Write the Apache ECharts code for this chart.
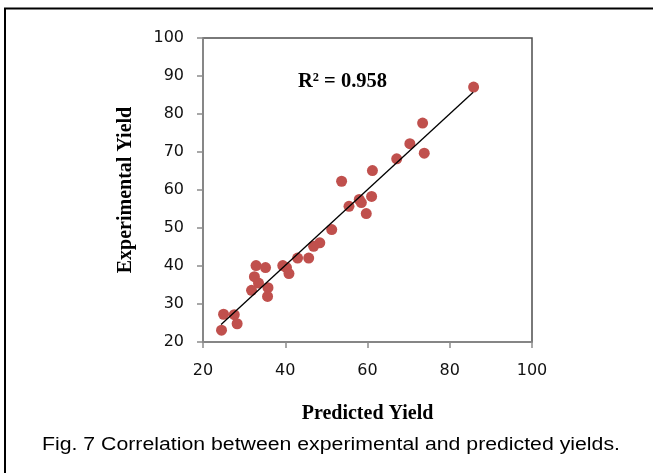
<!DOCTYPE html>
<html>
<head>
<meta charset="utf-8">
<title>Correlation between experimental and predicted yields</title>
<script src="https://cdn.jsdelivr.net/npm/echarts@6/dist/echarts.min.js"></script>
<style>
    html, body {
        margin: 0;
        padding: 0;
        background: #fff;
    }
    #yieldChart {
        width: 653px;
        height: 473px;
    }
</style>
</head>
<body>
<div id="yieldChart"></div>
<script>
// values
const predictedYield = [
    85.8, 73.4, 70.3, 73.8, 67.1, 61.2, 53.7, 61.0, 58.0, 58.5, 55.5,
    59.7, 51.3, 48.4, 46.9, 43.0, 45.7, 39.4, 40.3, 40.9, 32.9, 35.2,
    32.5, 33.5, 35.8, 31.8, 35.7, 25.0, 27.6, 28.3, 24.5,
];
const experimentalYield = [
    87.1, 77.6, 72.2, 69.7, 68.2, 65.1, 62.3, 58.3, 57.5, 56.7, 55.7,
    53.8, 49.6, 46.1, 45.2, 42.1, 42.1, 40.1, 39.6, 38.0, 40.1, 39.6,
    37.2, 35.5, 34.3, 33.6, 32.0, 27.3, 27.2, 24.8, 23.1,
];
// ends of the drawn trend line
const trendX = [24.4, 85.7];
const trendY = [24.6, 85.7];

const xTicks = [20, 40, 60, 80, 100];
const yTicks = [20, 30, 40, 50, 60, 70, 80, 90, 100];
const rSquared = '0.958';
const captionText = 'Fig. 7 Correlation between experimental and predicted yields.';

function getYieldChartOption() {
    const points = predictedYield.map((x, i) => [x, experimentalYield[i]]);
    const trendLine = trendX.map((x, i) => [x, trendY[i]]);

    const option = {
        animation: false,
        grid: {
            left: 203,
            top: 38,
            width: 329,
            height: 304,
            show: true,
            borderColor: '#4d4d4d',
            borderWidth: 1.5,
        },
        xAxis: {
            type: 'value',
            min: xTicks[0],
            max: xTicks[xTicks.length - 1],
            interval: xTicks[1] - xTicks[0],
            name: 'Predicted Yield',
            nameLocation: 'middle',
            nameGap: 62,
            nameTextStyle: {
                fontFamily: 'Liberation Serif',
                fontWeight: 'bold',
                fontSize: 20,
                color: '#000',
            },
            axisLine: {lineStyle: {color: '#8c8c8c', width: 1.5}},
            axisTick: {show: true, length: 6, lineStyle: {color: '#8c8c8c', width: 1.5}},
            axisLabel: {
                margin: 21,
                fontFamily: 'DejaVu Sans',
                fontSize: 16,
                color: '#111',
            },
            splitLine: {show: false},
        },
        yAxis: {
            type: 'value',
            min: yTicks[0],
            max: yTicks[yTicks.length - 1],
            interval: yTicks[1] - yTicks[0],
            name: 'Experimental Yield',
            nameLocation: 'middle',
            nameGap: 67,
            nameTextStyle: {
                fontFamily: 'Liberation Serif',
                fontWeight: 'bold',
                fontSize: 20,
                color: '#000',
            },
            axisLine: {lineStyle: {color: '#8c8c8c', width: 1.5}},
            axisTick: {show: true, length: 6, lineStyle: {color: '#8c8c8c', width: 1.5}},
            axisLabel: {
                margin: 19,
                fontFamily: 'DejaVu Sans',
                fontSize: 16,
                color: '#111',
            },
            splitLine: {show: false},
        },
        graphic: [
            {
                // outer frame of the figure, cut off on the right and bottom
                type: 'rect',
                shape: {x: 5, y: 8.5, width: 700, height: 500},
                style: {fill: 'none', stroke: '#000', lineWidth: 2},
                silent: true,
            },
            {
                type: 'text',
                x: 298,
                y: 82,
                style: {
                    text: 'R² = ' + rSquared,
                    font: 'bold 20.5px "Liberation Serif"',
                    fill: '#000',
                    verticalAlign: 'middle',
                },
            },
            {
                type: 'text',
                x: 42,
                y: 445,
                scaleX: 1.215,
                style: {
                    text: captionText,
                    font: '17.5px "Liberation Sans"',
                    fill: '#000',
                    verticalAlign: 'middle',
                },
            },
        ],
        series: [
            {
                type: 'line',
                data: trendLine,
                symbol: 'none',
                lineStyle: {color: '#000', width: 1.3},
                z: 3,
            },
            {
                type: 'scatter',
                data: points,
                symbol: 'circle',
                symbolSize: 11,
                itemStyle: {color: '#c0504d', opacity: 1},
                z: 2,
            },
        ],
    };

    return option;
}

const yieldChart = echarts.init(document.getElementById('yieldChart'));
yieldChart.setOption(getYieldChartOption());
</script>
</body>
</html>
